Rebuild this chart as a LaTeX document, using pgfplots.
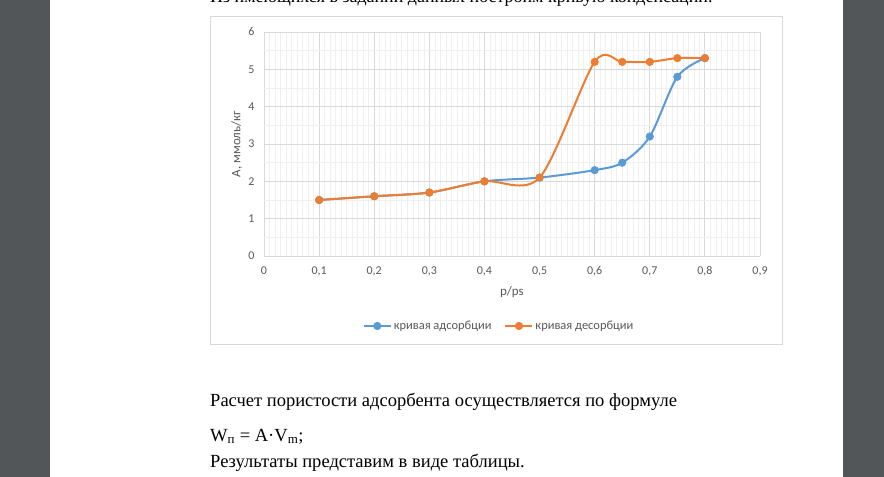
\documentclass[border=0pt]{standalone}
\usepackage{fontspec}
\setmainfont{Liberation Serif}
\newfontfamily\chartfont{Carlito}
\usepackage{pgfplots}
\pgfplotsset{compat=1.18}
\definecolor{ablue}{HTML}{5B9BD5}
\definecolor{aorange}{HTML}{ED7D31}
\definecolor{tgray}{HTML}{595959}
\definecolor{gmaj}{HTML}{D9D9D9}
\definecolor{gmin}{HTML}{F0F0F0}
\definecolor{viewer}{HTML}{525659}
\begin{document}
\begin{tikzpicture}
\path[use as bounding box] (0bp,0bp) rectangle (884bp,477bp);
\clip (0bp,0bp) rectangle (884bp,477bp);
\fill[viewer] (0bp,0bp) rectangle (884bp,477bp);
\fill[white] (50bp,0bp) rectangle (843bp,477bp);
\node[anchor=base west, inner sep=0, font=\fontsize{18}{21}\selectfont] at (210bp,474.5bp) {Из имеющихся в задании данных построим кривую конденсации.};
\draw[gmaj, fill=white, line width=1bp] (210.5bp,132bp) rectangle (782bp,460bp);
\begin{axis}[
  at={(264bp,221bp)}, anchor=south west,
  scale only axis, width=496bp, height=224bp,
  xmin=0, xmax=0.9, ymin=0, ymax=6,
  xtick={0,0.1,0.2,0.3,0.4,0.5,0.6,0.7,0.8,0.9},
  ytick={0,1,2,3,4,5,6},
  minor x tick num=9, minor y tick num=1,
  grid=both,
  major grid style={gmaj, line width=0.8bp},
  minor grid style={gmin, line width=0.6bp},
  axis line style={gmaj, line width=0.8bp},
  axis x line*=bottom, axis y line*=left,
  y axis line style={draw=none},
  major tick length=0, minor tick length=0,
  /pgf/number format/use comma,
  /pgf/number format/fixed,
  /pgf/number format/assume math mode=true,
  tick label style={font=\chartfont\fontsize{12}{14}\selectfont, text=tgray},
  xticklabel style={yshift=-7bp},
  yticklabel style={xshift=-6bp},
  xlabel={p/ps},
  ylabel={А, ммоль/кг},
  every axis x label/.style={at={(axis description cs:0.5,-0.163)}, anchor=center, font=\chartfont\fontsize{13}{15}\selectfont, text=tgray},
  every axis y label/.style={at={(axis description cs:-0.055,0.5)}, anchor=center, rotate=90, font=\chartfont\fontsize{13}{15}\selectfont, text=tgray},
  legend style={at={(axis description cs:0.474,-0.3125)}, anchor=center, draw=none, fill=none,
    font=\chartfont\fontsize{12.5}{14}\selectfont, text=tgray, inner sep=1bp,
    /tikz/every even column/.append style={column sep=11bp}},
  legend columns=2,
  legend cell align=left,
  legend image code/.code={\draw[mark repeat=2,mark phase=2] plot coordinates {(0bp,0bp) (13.5bp,0bp) (27bp,0bp)};},
]
\addplot[ablue, line width=2bp, smooth, tension=0.5, mark=*, mark size=3.8bp, mark options={solid, fill=ablue, draw=ablue, line width=0.5bp}]
coordinates {(0.1,1.5) (0.2,1.6) (0.3,1.7) (0.4,2.0) (0.5,2.1) (0.6,2.3) (0.65,2.5) (0.7,3.2) (0.75,4.8) (0.8,5.3)};
\addlegendentry{кривая адсорбции}
\addplot[aorange, line width=2bp, smooth, tension=0.5, mark=*, mark size=3.8bp, mark options={solid, fill=aorange, draw=aorange, line width=0.5bp}]
coordinates {(0.1,1.5) (0.2,1.6) (0.3,1.7) (0.4,2.0) (0.5,2.1) (0.6,5.2) (0.65,5.2) (0.7,5.2) (0.75,5.3) (0.8,5.3)};
\addlegendentry{кривая десорбции}
\end{axis}
\node[anchor=base west, inner sep=0, font=\fontsize{18.6}{21}\selectfont] at (210bp,70bp) {Расчет пористости адсорбента осуществляется по формуле};
\node[anchor=base west, inner sep=0, font=\fontsize{18.6}{21}\selectfont] at (210bp,36bp) {W\textsubscript{п} = A·V\textsubscript{m};};
\node[anchor=base west, inner sep=0, font=\fontsize{18.6}{21}\selectfont] at (210bp,10bp) {Результаты представим в виде таблицы.};
\end{tikzpicture}
\end{document}
